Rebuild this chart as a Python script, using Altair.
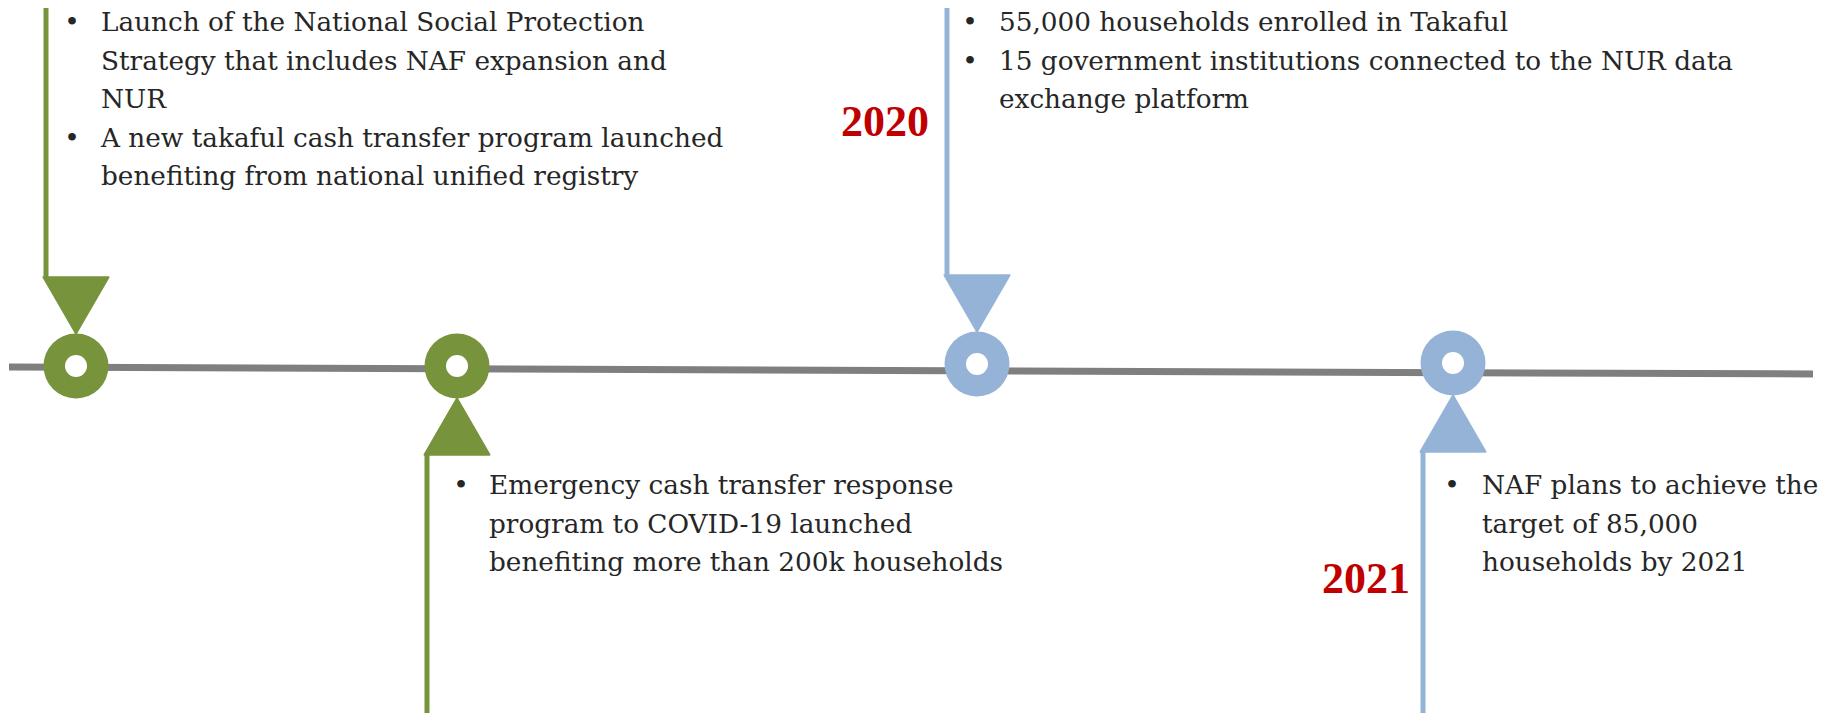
import altair as alt
import pandas as pd

# ---------------- data ----------------
stop_x = [76, 457, 977, 1453]            # position of each milestone along the timeline
stop_y = [366, 366, 364, 363]
stop_side = ["above", "below", "above", "below"]
stop_color = ["#77933C", "#77933C", "#95B3D7", "#95B3D7"]
year_labels = ["", "", "2020", "2021"]

items = [
    [["Launch of the National Social Protection",
      "Strategy that includes NAF expansion and",
      "NUR"],
     ["A new takaful cash transfer program launched",
      "benefiting from national unified registry"]],
    [["Emergency cash transfer response",
      "program to COVID-19 launched",
      "benefiting more than 200k households"]],
    [["55,000 households enrolled in Takaful"],
     ["15 government institutions connected to the NUR data",
      "exchange platform"]],
    [["NAF plans to achieve the",
      "target of 85,000",
      "households by 2021"]],
]

timeline_start = [9, 367]
timeline_end = [1813, 374]

# ---------------- layout constants ----------------
W, H = 1810, 705
circle_d, hole_d = 65, 22
tri_w = 65
tri_h = tri_w * 0.866
stem_w = 5
top_y, bottom_y = 8, 713
text_dx = [25, 32, 22, 29]      # text start relative to stop centre
bullet_dx = [-4, 4, -7, -1]
first_baseline = {"above": 31, "below": 494}
line_gap = 38.6
year_dx = [0, 0, -48, -43]
year_baseline = {"above": 136, "below": 593}
body_font, body_size = "DejaVu Serif", 26.3

# ---------------- build tables ----------------
stops = pd.DataFrame({"x": stop_x, "y": stop_y, "side": stop_side, "color": stop_color})
tri_rows, stem_rows, text_rows, bullet_rows, year_rows = [], [], [], [], []
for i, r in stops.iterrows():
    r_out = circle_d / 2
    if r.side == "above":
        ty = r.y - r_out - tri_h / 2
        shape = "triangle-down"
        base = ty - tri_h / 2
        stem_rows.append({"x": r.x - tri_w / 2 + stem_w / 2, "y": top_y, "y2": base, "color": r.color})
    else:
        ty = r.y + r_out + tri_h / 2
        shape = "triangle-up"
        base = ty + tri_h / 2
        stem_rows.append({"x": r.x - tri_w / 2 + stem_w / 2, "y": base, "y2": bottom_y, "color": r.color})
    tri_rows.append({"x": r.x, "y": ty, "shape": shape, "color": r.color})
    by = first_baseline[r.side]
    for item in items[i]:
        bullet_rows.append({"x": r.x + bullet_dx[i], "y": by})
        for line in item:
            text_rows.append({"x": r.x + text_dx[i], "y": by, "t": line})
            by += line_gap
    if year_labels[i]:
        year_rows.append({"x": r.x + year_dx[i], "y": year_baseline[r.side], "t": year_labels[i]})

tri = pd.DataFrame(tri_rows)
stems = pd.DataFrame(stem_rows)
texts = pd.DataFrame(text_rows)
bullets = pd.DataFrame(bullet_rows)
years = pd.DataFrame(year_rows)
tl = pd.DataFrame({"x": [timeline_start[0]], "y": [timeline_start[1]],
                   "x2": [timeline_end[0]], "y2": [timeline_end[1]]})

xs = alt.Scale(domain=[8, 8 + W], nice=False, zero=False)
ys = alt.Scale(domain=[8, 8 + H], nice=False, zero=False, reverse=True)
X = alt.X("x:Q", scale=xs, axis=None)
Y = alt.Y("y:Q", scale=ys, axis=None)
C = alt.Color("color:N", scale=None, legend=None)

timeline = alt.Chart(tl).mark_rule(color="#7F7F7F", strokeWidth=7).encode(
    x=X, y=Y, x2="x2:Q", y2="y2:Q")

stem = alt.Chart(stems).mark_rule(strokeWidth=stem_w).encode(x=X, y=Y, y2="y2:Q", color=C)

triangles = alt.Chart(tri).mark_point(filled=True, opacity=1, size=tri_w ** 2,
                                       strokeJoin="round").encode(
    x=X, y=Y, shape=alt.Shape("shape:N", scale=None, legend=None), color=C,
    stroke=alt.Stroke("color:N", scale=None, legend=None))

outer = alt.Chart(stops).mark_point(filled=True, opacity=1, shape="circle",
                                    size=circle_d ** 2).encode(x=X, y=Y, color=C)
hole = alt.Chart(stops).mark_point(filled=True, opacity=1, shape="circle",
                                   size=hole_d ** 2, color="white").encode(x=X, y=Y)

body = alt.Chart(texts).mark_text(align="left", baseline="alphabetic", font=body_font,
                                  fontSize=body_size, color="#262626").encode(x=X, y=Y, text="t:N")
bul = alt.Chart(bullets).mark_text(align="center", baseline="alphabetic", font=body_font,
                                   fontSize=body_size, color="#262626", text="•").encode(x=X, y=Y)
yr = alt.Chart(years).mark_text(align="right", baseline="alphabetic", font="Liberation Serif",
                                fontSize=44, fontWeight="bold", color="#C00000").encode(
    x=X, y=Y, text="t:N")

chart = alt.layer(timeline, stem, triangles, outer, hole, body, bul, yr).properties(
    width=W, height=H, padding=0, background="white",
    autosize=alt.AutoSizeParams(type="none")
).configure_view(stroke=None)

chart.save("out.html", embed_options={"renderer": "svg", "actions": False})
